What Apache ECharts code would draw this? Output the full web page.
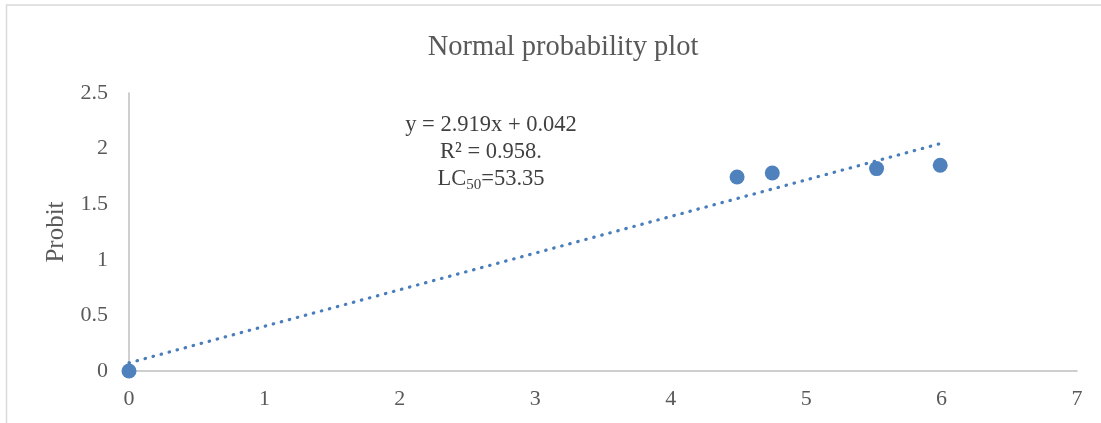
<!DOCTYPE html>
<html>
<head>
<meta charset="utf-8">
<script src="https://cdn.jsdelivr.net/npm/echarts@6/dist/echarts.min.js"></script>
<style>html,body{margin:0;padding:0;background:#fff;}#c{width:1101px;height:423px;}</style>
</head>
<body>
<div id="c"></div>
<script>
const titleText = 'Normal probability plot';
const yAxisName = 'Probit';
const xTicks = [0, 1, 2, 3, 4, 5, 6, 7];
const yTicks = [0, 0.5, 1, 1.5, 2, 2.5];
const xValues = [0, 4.49, 4.75, 5.52, 5.99];
const yValues = [0, 1.745, 1.78, 1.82, 1.85];
const eqLines = ['y = 2.919x + 0.042', 'R² = 0.958.'];
const lcLabel = ['LC', '50', '=53.35'];

// linear least-squares trendline through the points
const n = xValues.length;
const mx = xValues.reduce((a, b) => a + b, 0) / n;
const my = yValues.reduce((a, b) => a + b, 0) / n;
let sxx = 0, sxy = 0;
for (let i = 0; i < n; i++) { sxx += (xValues[i] - mx) ** 2; sxy += (xValues[i] - mx) * (yValues[i] - my); }
const slope = sxy / sxx, icpt = my - slope * mx;
const xMin = Math.min(...xValues), xMax = Math.max(...xValues);
const trend = [[xMin, icpt + slope * xMin], [xMax, icpt + slope * xMax]];

const font = '"Liberation Serif", "Times New Roman", serif';
const chart = echarts.init(document.getElementById('c'));
chart.setOption({
  animation: false,
  backgroundColor: '#fff',
  title: {
    text: titleText, left: 558, top: 28, textAlign: 'center',
    textStyle: { fontFamily: font, fontSize: 28.5, fontWeight: 'normal', color: '#595959' }
  },
  grid: { left: 129, right: 24, top: 93, bottom: 52 },
  xAxis: {
    type: 'value', min: xTicks[0], max: xTicks[xTicks.length - 1], interval: 1,
    axisLine: { show: true, onZero: false, lineStyle: { color: '#bfbfbf', width: 1.5 } },
    axisTick: { show: false }, splitLine: { show: false },
    axisLabel: { margin: 17, fontFamily: font, fontSize: 22, color: '#595959' }
  },
  yAxis: {
    type: 'value', min: yTicks[0], max: yTicks[yTicks.length - 1], interval: 0.5,
    name: yAxisName, nameLocation: 'middle', nameGap: 60,
    nameTextStyle: { fontFamily: font, fontSize: 25, color: '#595959' },
    axisLine: { show: true, lineStyle: { color: '#bfbfbf', width: 1.5 } },
    axisTick: { show: false }, splitLine: { show: false },
    axisLabel: { margin: 21, fontFamily: font, fontSize: 22, color: '#595959' }
  },
  series: [
    {
      type: 'line', data: trend, symbol: 'none', silent: true, z: 2,
      lineStyle: { color: '#4a7ebb', width: 3.2, type: [0.5, 7.8], cap: 'round' }
    },
    {
      type: 'scatter', data: xValues.map((x, i) => [x, yValues[i]]),
      symbolSize: 15, z: 3, itemStyle: { color: '#4f81bd', opacity: 1 }
    }
  ],
  graphic: [
    { type: 'rect', shape: { x: 6.5, y: 5, width: 1200, height: 500 }, style: { fill: 'none', stroke: '#d9d9d9', lineWidth: 1.5 }, silent: true },
    {
      type: 'text', x: 491, y: 112,
      style: {
        text: eqLines[0] + '\n' + eqLines[1] + '\n{a|' + lcLabel[0] + '}{s|' + lcLabel[1] + '}{a|' + lcLabel[2] + '}',
        align: 'center', verticalAlign: 'top', lineHeight: 27,
        font: '22.5px ' + font, fill: '#404040',
        rich: {
          a: { fontFamily: font, fontSize: 22.5, color: '#404040', lineHeight: 27 },
          s: { fontFamily: font, fontSize: 15, color: '#404040', verticalAlign: 'bottom', padding: [9, 0, 0, 0], lineHeight: 27 }
        }
      }
    }
  ]
});
</script>
</body>
</html>
